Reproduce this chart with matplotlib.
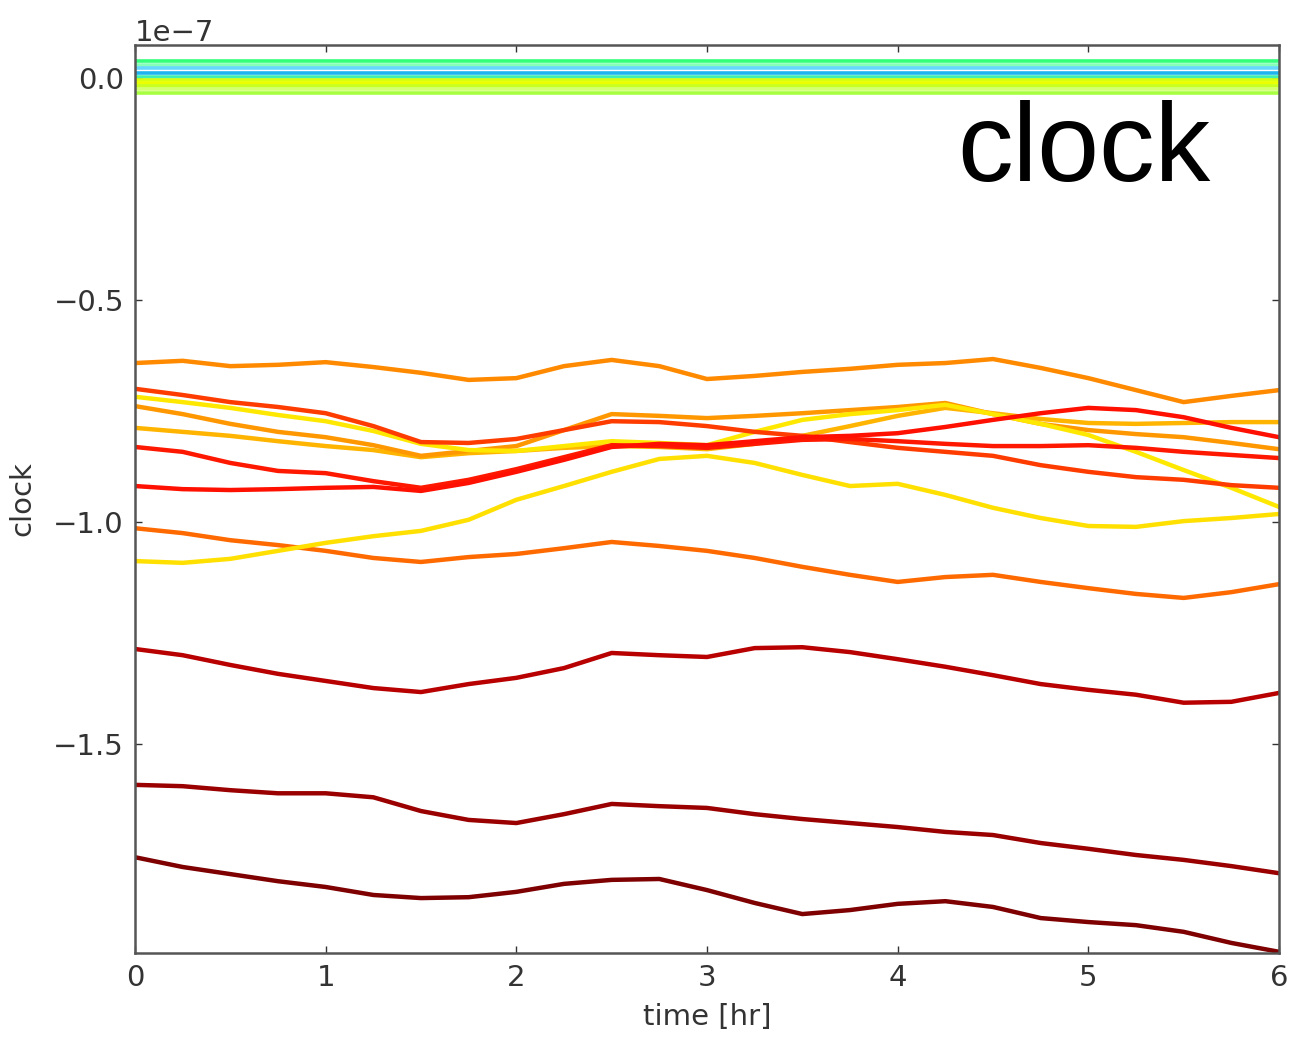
import numpy as np
import matplotlib
matplotlib.use("Agg")
import matplotlib.pyplot as pl

# time axis (hours), values below are in units of 1e-7
t = [0, 0.25, 0.5, 0.75, 1, 1.25, 1.5, 1.75, 2, 2.25, 2.5, 2.75, 3,
     3.25, 3.5, 3.75, 4, 4.25, 4.5, 4.75, 5, 5.25, 5.5, 5.75, 6]

# clocks sitting near zero
near_zero = [0.038, 0.029, 0.023, 0.011, 0.002, -0.005, -0.011, -0.018, -0.025, -0.034]
near_zero_cols = ['#33ff7a', '#88ffb8', '#66d8ff', '#1fb4f0', '#40f0b0',
                  '#d8ff10', '#ecff00', '#c8ff20', '#d4ff70', '#a8ff40']

clkD = [-0.642, -0.637, -0.649, -0.646, -0.640, -0.651, -0.664, -0.680, -0.676, -0.649, -0.635, -0.649, -0.678,
        -0.671, -0.662, -0.655, -0.646, -0.642, -0.633, -0.653, -0.676, -0.703, -0.730, -0.716, -0.703]
clkE = [-0.700, -0.714, -0.730, -0.741, -0.755, -0.784, -0.820, -0.822, -0.813, -0.793, -0.773, -0.775, -0.784,
        -0.797, -0.806, -0.820, -0.833, -0.842, -0.851, -0.872, -0.887, -0.899, -0.905, -0.917, -0.923]
clkF = [-0.718, -0.730, -0.743, -0.759, -0.773, -0.795, -0.824, -0.838, -0.840, -0.829, -0.818, -0.822, -0.827,
        -0.797, -0.770, -0.757, -0.748, -0.736, -0.757, -0.779, -0.804, -0.842, -0.883, -0.923, -0.966]
clkG = [-0.739, -0.757, -0.779, -0.797, -0.809, -0.827, -0.851, -0.840, -0.829, -0.793, -0.757, -0.761, -0.766,
        -0.761, -0.755, -0.748, -0.741, -0.732, -0.757, -0.779, -0.793, -0.802, -0.809, -0.822, -0.836]
clkH = [-0.788, -0.797, -0.806, -0.818, -0.829, -0.838, -0.854, -0.845, -0.840, -0.833, -0.829, -0.831, -0.836,
        -0.824, -0.806, -0.784, -0.761, -0.743, -0.755, -0.768, -0.777, -0.779, -0.777, -0.775, -0.775]
clkI = [-0.831, -0.842, -0.867, -0.885, -0.890, -0.908, -0.923, -0.905, -0.881, -0.854, -0.827, -0.829, -0.833,
        -0.824, -0.815, -0.813, -0.818, -0.824, -0.829, -0.829, -0.827, -0.833, -0.842, -0.849, -0.856]
clkJ = [-0.919, -0.926, -0.928, -0.926, -0.923, -0.921, -0.930, -0.912, -0.887, -0.860, -0.831, -0.824, -0.827,
        -0.818, -0.809, -0.806, -0.800, -0.786, -0.770, -0.755, -0.743, -0.748, -0.764, -0.788, -0.809]
clkK = [-1.088, -1.092, -1.083, -1.065, -1.047, -1.032, -1.020, -0.995, -0.950, -0.919, -0.887, -0.858, -0.851,
        -0.867, -0.894, -0.919, -0.914, -0.939, -0.968, -0.991, -1.009, -1.011, -0.998, -0.991, -0.982]
clkL = [-1.014, -1.025, -1.041, -1.052, -1.065, -1.081, -1.090, -1.079, -1.072, -1.059, -1.045, -1.054, -1.065,
        -1.081, -1.101, -1.119, -1.135, -1.124, -1.119, -1.135, -1.149, -1.162, -1.171, -1.158, -1.140]
clkC = [-1.286, -1.300, -1.322, -1.342, -1.358, -1.374, -1.383, -1.365, -1.351, -1.329, -1.295, -1.300, -1.304,
        -1.284, -1.282, -1.293, -1.309, -1.326, -1.345, -1.365, -1.378, -1.389, -1.407, -1.405, -1.385]
clkB = [-1.592, -1.595, -1.604, -1.611, -1.611, -1.620, -1.651, -1.671, -1.678, -1.658, -1.635, -1.640, -1.644,
        -1.658, -1.669, -1.678, -1.687, -1.698, -1.705, -1.723, -1.736, -1.750, -1.761, -1.775, -1.791]
clkA = [-1.755, -1.777, -1.793, -1.809, -1.822, -1.840, -1.847, -1.845, -1.833, -1.815, -1.806, -1.804, -1.829,
        -1.858, -1.883, -1.874, -1.860, -1.854, -1.867, -1.892, -1.901, -1.908, -1.923, -1.948, -1.968]

clocks = [clkD, clkL, clkK, clkH, clkG, clkF, clkE, clkI, clkJ, clkC, clkB, clkA]
clock_cols = ['#ff8a00', '#ff6a00', '#ffe000', '#ffb400', '#ff9800', '#ffe800',
              '#ff3c00', '#ff1800', '#ff1000', '#b80000', '#9a0000', '#7f0000']

scale = 1e-7

fig = pl.figure(figsize=(12.91, 10.37), dpi=100)
ax = fig.add_axes([0.10457, 0.08100, 0.88613, 0.87561])

for lvl, c in zip(near_zero, near_zero_cols):
    ax.plot(t, [lvl*scale]*len(t), c=c, lw=2.6)

for vals, c in zip(clocks, clock_cols):
    ax.plot(t, np.array(vals)*scale, c=c, lw=3.2)

ax.set_xlim(0, 6)
ax.set_ylim(-1.9707*scale, 0.0743*scale)
ax.set_xticks([0, 1, 2, 3, 4, 5, 6])
ax.set_yticks([0, -0.5*scale, -1.0*scale, -1.5*scale])
ax.tick_params(direction='in', top=True, right=True, length=5, width=1,
               labelsize=21, colors='#333333', pad=8)
for s in ax.spines.values():
    s.set_color('#555555')
    s.set_linewidth(1.8)
ax.yaxis.get_offset_text().set_fontsize(21)
ax.yaxis.get_offset_text().set_color('#333333')
ax.set_xlabel("time [hr]", fontsize=21, color='#333333', labelpad=8)
ax.set_ylabel("clock", fontsize=21, color='#333333', labelpad=12)

fig.text(1210/1291, 1-181/1037, "clock", ha='right', va='baseline',
         fontsize=80, family='Liberation Sans')

pl.savefig("out.png", dpi=100)
